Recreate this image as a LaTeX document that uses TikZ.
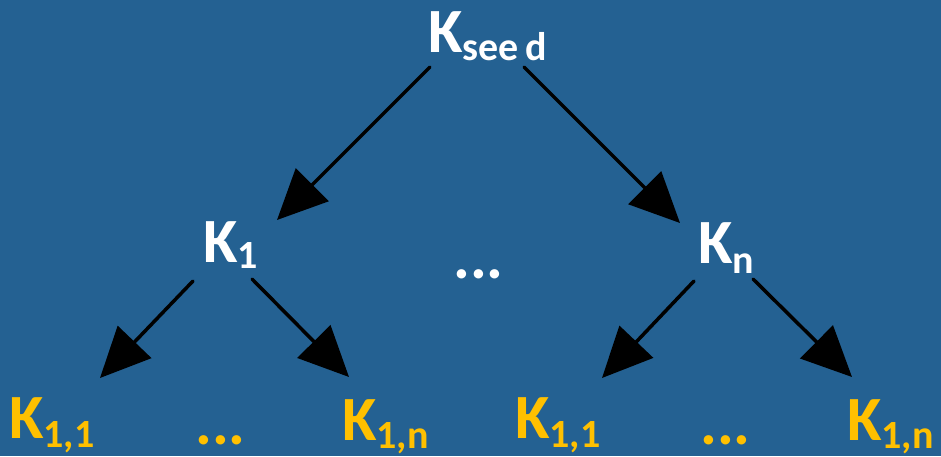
\documentclass[tikz,border=0pt]{standalone}
\usepackage{fontspec}
\setmainfont{Carlito}
\usetikzlibrary{arrows.meta}
\definecolor{bg}{HTML}{246192}
\definecolor{gold}{HTML}{FFC000}
\newcommand{\Ksub}[2][8]{K\raisebox{-#1pt}{\fontsize{40}{40}\selectfont #2}}
\begin{document}
\begin{tikzpicture}[x=1pt,y=-1pt,
  lbl/.style={inner sep=0pt, anchor=base west, font=\fontsize{63}{63}\selectfont\bfseries, text=white},
  leaf/.style={lbl, text=gold, text depth=0pt},
  arr/.style={line width=3.5pt, line cap=round, -{Triangle[length=50pt,width=46pt]}}]
\fill[bg] (0,0) rectangle (941,456);
\useasboundingbox (0,0) rectangle (941,456);
% nodes
\node[lbl] (seed) at (428,52) {\Ksub[8]{se\kern-0.5pt e\,d}};
\node[lbl] (k1) at (203,262) {\Ksub[6]{1}};
\node[lbl] (kn) at (698,263) {\Ksub[10]{n}};
\node[lbl] (mdots) at (453,278) {...};
\node[leaf] (l11) at (9,438) {\Ksub[9]{1,1}};
\node[leaf] (ldots) at (195,444) {...};
\node[leaf] (l1n) at (342,440) {\Ksub[8]{1,n}};
\node[leaf] (r11) at (515,438) {\Ksub[9]{1,1}};
\node[leaf] (rdots) at (700,444) {...};
\node[leaf] (r1n) at (847,440) {\Ksub[8]{1,n}};
% connector end points
\coordinate (seedL) at (430,67);
\coordinate (seedR) at (524,67);
\coordinate (k1top) at (277,220);
\coordinate (kntop) at (680,223);
\coordinate (k1L) at (193,281);
\coordinate (k1R) at (252,279);
\coordinate (knL) at (694,281);
\coordinate (knR) at (753,279);
\coordinate (l11top) at (100,378);
\coordinate (l1ntop) at (349,377);
\coordinate (r11top) at (602,378);
\coordinate (r1ntop) at (852,377);
% connectors
\draw[arr] (seedL) -- (k1top);
\draw[arr] (seedR) -- (kntop);
\draw[arr] (k1L) -- (l11top);
\draw[arr] (k1R) -- (l1ntop);
\draw[arr] (knL) -- (r11top);
\draw[arr] (knR) -- (r1ntop);
\end{tikzpicture}
\end{document}
